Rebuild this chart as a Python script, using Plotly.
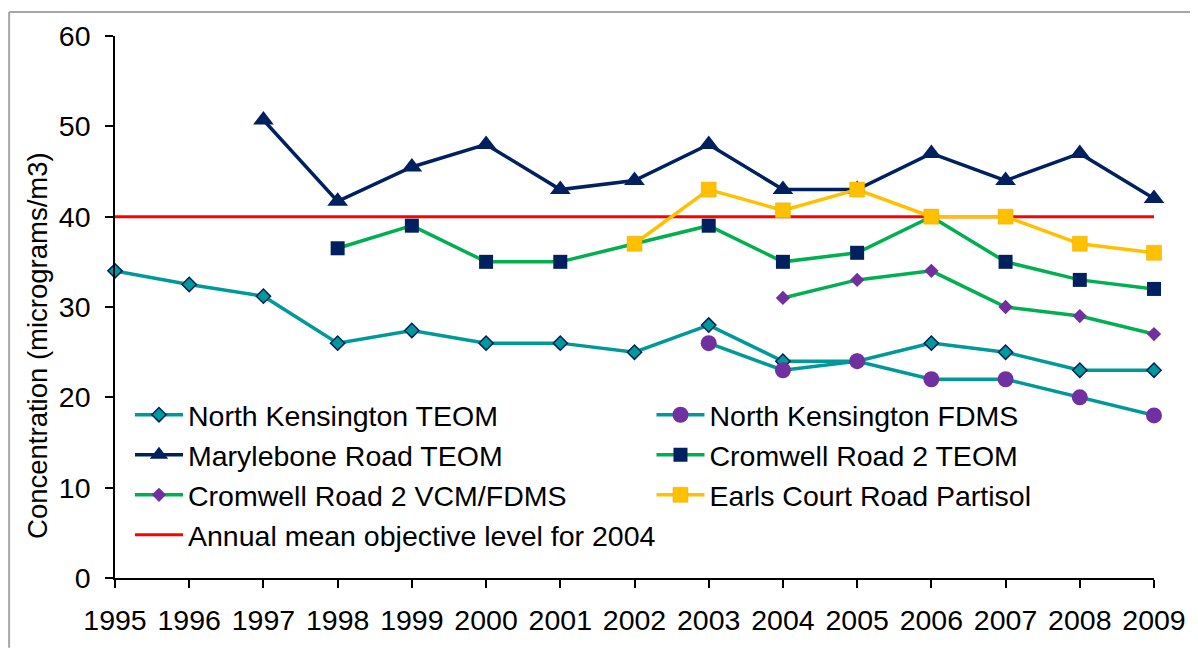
import plotly.graph_objects as go

years = list(range(1995, 2010))

nk_teom = [34, 32.5, 31.2, 26, 27.4, 26, 26, 25, 28, 24, 24, 26, 25, 23, 23]
nk_fdms = [None]*8 + [26, 23, 24, 22, 22, 20, 18]
mary_teom = [None, None, 50.7, 41.7, 45.5, 48, 43, 44, 48, 43, 43, 47, 44, 47, 42]
crom_teom = [None]*3 + [36.5, 39, 35, 35, 37, 39, 35, 36, 40, 35, 33, 32]
crom_vcm = [None]*9 + [31, 33, 34, 30, 29, 27]
earls = [None]*7 + [37, 43, 40.7, 43, 40, 40, 37, 36]
objective = [40, 40]
objective_years = [1995, 2009]
y_title = "Concentration (micrograms/m3)"

TEAL = "#009999"
NAVY = "#002060"
GREEN = "#00B050"
PURPLE = "#7030A0"
YELLOW = "#FFC000"
RED = "#FF0000"

FONT = "Liberation Sans, Arial, sans-serif"
FS = 28.5
LW = 3.5

fig = go.Figure()

fig.add_trace(go.Scatter(
    x=objective_years, y=objective, mode="lines",
    name="Annual mean objective level for 2004",
    line=dict(color=RED, width=3),
    legend="legend", legendgroup="g7", legendrank=7, cliponaxis=False))

fig.add_trace(go.Scatter(
    x=years, y=nk_teom, mode="lines+markers", name="North Kensington TEOM",
    line=dict(color=TEAL, width=LW),
    marker=dict(symbol="diamond", size=11, color=TEAL, line=dict(color=NAVY, width=1.5)),
    legend="legend", legendgroup="g1", legendrank=1, cliponaxis=False))

fig.add_trace(go.Scatter(
    x=years, y=nk_fdms, mode="lines+markers", name="North Kensington FDMS",
    line=dict(color=TEAL, width=LW),
    marker=dict(symbol="circle", size=16, color=PURPLE, line=dict(width=0)),
    legend="legend2", legendgroup="g2", legendrank=2, cliponaxis=False))

fig.add_trace(go.Scatter(
    x=years, y=mary_teom, mode="lines+markers", name="Marylebone Road TEOM",
    line=dict(color=NAVY, width=LW),
    marker=dict(symbol="triangle-up", size=18, color=NAVY, line=dict(width=0)),
    legend="legend", legendgroup="g3", legendrank=3, cliponaxis=False))

fig.add_trace(go.Scatter(
    x=years, y=crom_teom, mode="lines+markers", name="Cromwell Road 2 TEOM",
    line=dict(color=GREEN, width=LW),
    marker=dict(symbol="square", size=14, color=NAVY, line=dict(width=0)),
    legend="legend2", legendgroup="g4", legendrank=4, cliponaxis=False))

fig.add_trace(go.Scatter(
    x=years, y=crom_vcm, mode="lines+markers", name="Cromwell Road 2 VCM/FDMS",
    line=dict(color=GREEN, width=LW),
    marker=dict(symbol="diamond", size=11, color=PURPLE, line=dict(width=0)),
    legend="legend", legendgroup="g5", legendrank=5, cliponaxis=False))

fig.add_trace(go.Scatter(
    x=years, y=earls, mode="lines+markers", name="Earls Court Road Partisol",
    line=dict(color=YELLOW, width=LW),
    marker=dict(symbol="square", size=15, color=YELLOW, line=dict(color="#E6B000", width=0.5)),
    legend="legend2", legendgroup="g6", legendrank=6, cliponaxis=False))

# page is offset by the 8px body margin
OFF = 8
VW, VH = 1198, 648
PL, PR, PT, PB = 115, 1155, 34, 578   # plot area in screenshot pixels
W, H = VW - OFF, VH - OFF
ML, MR, MT, MB = PL - OFF, VW - PR, PT - OFF, VH - PB
pw, ph = PR - PL, PB - PT

def px_x(px):
    return (px - PL) / pw

def px_y(py):
    return (PB - py) / ph

legend_common = dict(
    font=dict(family=FONT, size=FS, color="black"),
    bgcolor="rgba(0,0,0,0)", borderwidth=0,
    orientation="v", tracegroupgap=0, itemwidth=48,
    xanchor="left", yanchor="top",
)

fig.update_layout(
    width=W, height=H,
    margin=dict(l=ML, r=MR, t=MT, b=MB, pad=0),
    paper_bgcolor="white", plot_bgcolor="white",
    font=dict(family=FONT, size=FS, color="black"),
    showlegend=True,
    legend=dict(**legend_common, x=px_x(130), y=px_y(389)),
    legend2=dict(**legend_common, x=px_x(652), y=px_y(389)),
    xaxis=dict(
        range=[1995, 2009], tickmode="linear", tick0=1995, dtick=1,
        showgrid=False, zeroline=False,
        showline=True, linecolor="black", linewidth=1.5,
        ticks="outside", ticklen=8, tickwidth=1.5, tickcolor="black",
        tickfont=dict(family=FONT, size=FS, color="black"),
        ticklabelstandoff=8,
    ),
    yaxis=dict(
        range=[0, 60], tickmode="linear", tick0=0, dtick=10,
        showgrid=False, zeroline=False,
        showline=True, linecolor="black", linewidth=1.5,
        ticks="outside", ticklen=8, tickwidth=1.5, tickcolor="black",
        tickfont=dict(family=FONT, size=FS, color="black"),
        ticklabelstandoff=9,
    ),
    annotations=[
        dict(text=y_title, xref="paper", yref="paper",
             x=px_x(38), y=px_y(345), xanchor="center", yanchor="middle",
             textangle=-90, showarrow=False,
             font=dict(family=FONT, size=27.5, color="black")),
    ],
    shapes=[
        dict(type="line", xref="paper", yref="paper",
             x0=px_x(9), x1=px_x(VW), y0=px_y(10), y1=px_y(10),
             line=dict(color="#A6A6A6", width=2)),
        dict(type="line", xref="paper", yref="paper",
             x0=px_x(9), x1=px_x(9), y0=px_y(10), y1=px_y(VH),
             line=dict(color="#A6A6A6", width=2)),
    ],
)

fig.write_html("out.html")
